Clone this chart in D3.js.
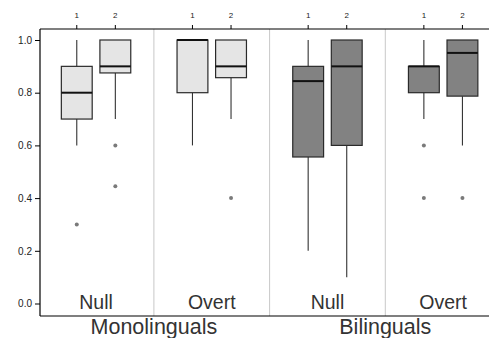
<!DOCTYPE html>
<html lang="en">
<head>
    <meta charset="UTF-8">
    <title>Boxplots</title>
    <script type="text/javascript" src="https://cdn.jsdelivr.net/npm/d3@7/dist/d3.min.js"></script>
    <style>
        body { margin: 0; background: #fff; }
        text { font-family: "Liberation Sans", Arial, sans-serif; }
    </style>
</head>
<body>
<script type="text/javascript">
    const width = 489, height = 338;

    // data
    const panels = ['Null', 'Overt', 'Null', 'Overt'];
    const groups = ['Monolinguals', 'Bilinguals'];
    const conditions = ['1', '2'];
    const yTicks = [0, 0.2, 0.4, 0.6, 0.8, 1.0];
    const whiskerLow = [[0.6, 0.7], [0.6, 0.7], [0.2, 0.1], [0.7, 0.6]];
    const q1 = [[0.7, 0.875], [0.8, 0.857], [0.556, 0.6], [0.8, 0.787]];
    const median = [[0.8, 0.9], [1.0, 0.9], [0.844, 0.9], [0.9, 0.951]];
    const q3 = [[0.9, 1.0], [1.0, 1.0], [0.9, 1.0], [0.9, 1.0]];
    const whiskerHigh = [[1.0, 1.0], [1.0, 1.0], [1.0, 1.0], [1.0, 1.0]];
    const outliers = [[[0.3], [0.6, 0.445]], [[], [0.4]], [[], []], [[0.6, 0.4], [0.4]]];
    const fills = ['#e5e5e5', '#e5e5e5', '#828282', '#828282'];

    const plotLeft = 40, plotTop = 29, plotBottom = 316;

    const svg = d3.select('body').append('svg')
        .attr('width', width)
        .attr('height', height);

    const x = d3.scaleBand()
        .domain(d3.range(panels.length))
        .range([38.2, 501]);
    const xi = d3.scalePoint()
        .domain(conditions)
        .range([0, x.bandwidth()])
        .padding(1);
    const boxW = xi.step() * 0.8;

    const y = d3.scaleLinear()
        .domain([0, 1])
        .range([303.5, 40]);

    // panel separators
    svg.append('g').selectAll('line')
        .data(d3.range(1, panels.length))
        .enter()
        .append('line')
        .attr('x1', d => x(d)).attr('x2', d => x(d))
        .attr('y1', plotTop).attr('y2', plotBottom)
        .style('stroke', '#c8c8c8')
        .style('stroke-width', 1);

    // boxes
    const g = svg.append('g');
    panels.forEach(function (p, i) {
        conditions.forEach(function (c, j) {
            const cx = x(i) + xi(c);
            const bg = g.append('g');
            bg.append('line')
                .attr('x1', cx).attr('x2', cx)
                .attr('y1', y(whiskerLow[i][j])).attr('y2', y(q1[i][j]))
                .style('stroke', '#333').style('stroke-width', 1.1);
            bg.append('line')
                .attr('x1', cx).attr('x2', cx)
                .attr('y1', y(q3[i][j])).attr('y2', y(whiskerHigh[i][j]))
                .style('stroke', '#333').style('stroke-width', 1.1);
            bg.append('rect')
                .attr('x', cx - boxW / 2)
                .attr('y', y(q3[i][j]))
                .attr('width', boxW)
                .attr('height', y(q1[i][j]) - y(q3[i][j]))
                .style('fill', fills[i])
                .style('stroke', '#2a2a2a')
                .style('stroke-width', 1.2);
            bg.append('line')
                .attr('x1', cx - boxW / 2).attr('x2', cx + boxW / 2)
                .attr('y1', y(median[i][j])).attr('y2', y(median[i][j]))
                .style('stroke', '#111').style('stroke-width', 2);
            bg.selectAll('circle')
                .data(outliers[i][j])
                .enter()
                .append('circle')
                .attr('cx', cx)
                .attr('cy', d => y(d))
                .attr('r', 2)
                .style('fill', '#7a7a7a');
        });
    });

    // top axis with condition ticks
    svg.append('line')
        .attr('x1', plotLeft).attr('x2', width)
        .attr('y1', plotTop).attr('y2', plotTop)
        .style('stroke', '#000').style('stroke-width', 1.2);
    panels.forEach(function (p, i) {
        const tg = svg.append('g');
        tg.selectAll('line')
            .data(conditions)
            .enter()
            .append('line')
            .attr('x1', d => x(i) + xi(d)).attr('x2', d => x(i) + xi(d))
            .attr('y1', plotTop - 4).attr('y2', plotTop)
            .style('stroke', '#000');
        tg.selectAll('text')
            .data(conditions)
            .enter()
            .append('text')
            .attr('x', d => x(i) + xi(d))
            .attr('y', 18)
            .attr('text-anchor', 'middle')
            .style('font-size', '8px')
            .style('fill', '#222')
            .text(d => d);
        svg.append('text')
            .attr('x', x(i) + x.bandwidth() / 2)
            .attr('y', 309)
            .attr('text-anchor', 'middle')
            .style('font-size', '19.5px')
            .style('fill', '#333')
            .text(p);
    });

    // left axis
    const yAxis = svg.append('g')
        .attr('transform', 'translate(' + plotLeft + ',0)')
        .call(d3.axisLeft(y).tickValues(yTicks).tickFormat(d3.format('.1f')).tickSize(5).tickPadding(3));
    yAxis.select('.domain').remove();
    yAxis.selectAll('text').style('font-size', '10px').style('fill', '#222')
        .style('font-family', '"Liberation Sans", Arial, sans-serif');
    svg.append('line')
        .attr('x1', plotLeft).attr('x2', plotLeft)
        .attr('y1', plotTop).attr('y2', plotBottom)
        .style('stroke', '#000').style('stroke-width', 1.2);

    // bottom line and group labels
    svg.append('line')
        .attr('x1', plotLeft).attr('x2', width)
        .attr('y1', plotBottom).attr('y2', plotBottom)
        .style('stroke', '#000').style('stroke-width', 1.2);
    groups.forEach(function (grp, k) {
        svg.append('text')
            .attr('x', x(2 * k + 1))
            .attr('y', 333.5)
            .attr('text-anchor', 'middle')
            .style('font-size', '21.5px')
            .style('fill', '#333')
            .text(grp);
    });
</script>
</body>
</html>
